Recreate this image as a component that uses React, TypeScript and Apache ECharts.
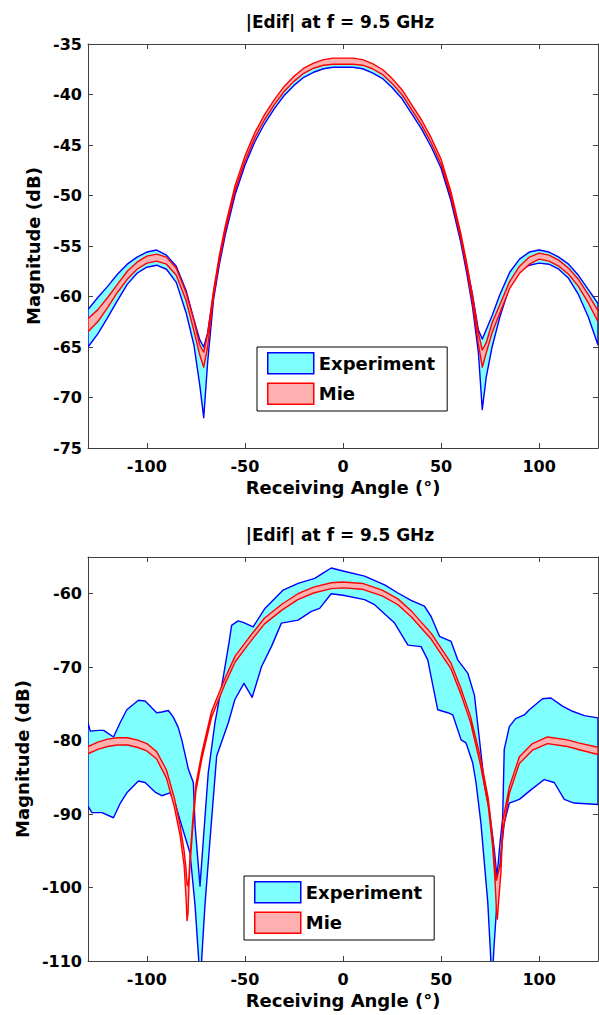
import React, { useEffect, useRef } from 'react';
import * as echarts from 'echarts';

// ---------------- Data ----------------
const TITLE = '|Edif| at f = 9.5 GHz';
const X_NAME = 'Receiving Angle (°)';
const Y_NAME = 'Magnitude (dB)';
const xTickValues = [-100, -50, 0, 50, 100];
const topYTicks = [-75, -70, -65, -60, -55, -50, -45, -40, -35];
const bottomYTicks = [-110, -100, -90, -80, -70, -60];

// Top chart (shared angle grid)
const topAngles = [-130, -125, -120, -115, -110, -105, -100, -95, -90, -85, -80, -76, -73, -71, -69, -66, -63, -60, -55, -50, -45, -40, -35, -30, -25, -20, -15, -10, -5, 0, 5, 10, 15, 20, 25, 30, 35, 40, 45, 50, 55, 60, 63, 66, 69, 71, 73, 76, 80, 85, 90, 95, 100, 105, 110, 115, 120, 125, 130];
const topExpLo = [-65.0, -63.7, -62.1, -60.4, -58.8, -57.7, -57.1, -56.9, -57.3, -58.6, -61.6, -64.8, -68.8, -72.0, -66.5, -60.3, -56.8, -53.9, -49.9, -47.0, -44.7, -42.9, -41.4, -40.1, -39.1, -38.3, -37.8, -37.45, -37.3, -37.3, -37.3, -37.45, -37.85, -38.4, -39.3, -40.4, -41.9, -43.4, -45.2, -47.3, -50.5, -54.6, -57.6, -61.0, -65.5, -71.2, -68.0, -65.0, -62.0, -59.0, -57.5, -56.9, -56.7, -56.8, -57.3, -58.2, -59.8, -62.0, -64.8];
const topExpHi = [-61.3, -60.1, -59.0, -57.8, -56.8, -56.1, -55.6, -55.4, -55.9, -57.0, -59.4, -62.3, -64.3, -65.0, -63.6, -59.7, -56.3, -53.4, -49.4, -46.5, -44.2, -42.4, -40.9, -39.6, -38.6, -37.8, -37.3, -36.95, -36.8, -36.8, -36.8, -36.95, -37.35, -37.9, -38.8, -39.9, -41.4, -42.9, -44.7, -46.8, -50.0, -54.1, -56.9, -59.8, -63.3, -64.2, -63.3, -61.9, -59.8, -57.6, -56.3, -55.6, -55.4, -55.6, -56.1, -56.8, -57.9, -59.3, -60.7];
const topMieLo = [-63.5, -62.5, -61.1, -59.6, -58.3, -57.3, -56.7, -56.5, -56.8, -57.9, -60.4, -63.4, -65.8, -67.0, -65.0, -60.0, -56.4, -53.5, -49.5, -46.6, -44.3, -42.5, -41.0, -39.7, -38.7, -37.9, -37.4, -37.1, -37.0, -37.0, -37.0, -37.1, -37.45, -38.0, -38.9, -40.0, -41.5, -43.0, -44.8, -46.9, -50.1, -54.2, -57.2, -60.6, -64.7, -67.0, -65.6, -63.6, -61.6, -59.2, -57.7, -56.8, -56.3, -56.5, -57.0, -57.8, -59.0, -60.6, -62.5];
const topMieHi = [-62.2, -61.3, -60.1, -58.8, -57.5, -56.6, -56.0, -55.8, -56.1, -57.2, -59.6, -62.4, -64.8, -65.5, -63.7, -59.4, -55.9, -53.0, -49.0, -46.1, -43.8, -42.0, -40.5, -39.2, -38.2, -37.4, -36.9, -36.55, -36.4, -36.4, -36.4, -36.55, -36.95, -37.5, -38.4, -39.5, -41.0, -42.5, -44.3, -46.4, -49.6, -53.7, -56.6, -59.9, -63.6, -65.3, -64.6, -62.6, -60.8, -58.5, -57.0, -56.1, -55.7, -55.9, -56.4, -57.2, -58.3, -59.8, -61.4];

// Bottom chart: experiment upper boundary
const botExpHiAngles = [-130, -128.8, -124.6, -122, -117, -113.5, -110.2, -104.3, -100.9, -98, -95, -92.4, -89, -86.5, -84, -82.2, -78.8, -76.3, -75.4, -72.9, -71.2, -68.7, -65.3, -61, -58, -56.8, -53.5, -50.9, -45.8, -39.8, -30.5, -22.9, -14.4, -10.2, -6, 0, 11, 21.2, 28, 34.7, 41.5, 44.9, 49.2, 55.1, 58.5, 63.6, 67, 69.5, 72.1, 74.6, 77.2, 78.5, 80, 81.4, 82.2, 84.8, 88, 92.4, 95, 101.7, 106, 111.9, 117, 123, 130];
const botExpHi = [-77.6, -78.7, -78.6, -78.6, -79.5, -77.5, -75.8, -74.5, -74.6, -75.4, -76.2, -76.1, -75.9, -76.8, -78.2, -79.9, -83.9, -85.7, -91.6, -99.8, -93.5, -84.4, -77.6, -71.3, -66.5, -64.3, -63.7, -63.9, -64.5, -62.0, -59.5, -58.6, -57.9, -57.2, -56.5, -56.9, -57.6, -58.8, -59.9, -60.9, -61.7, -63.1, -65.8, -66.5, -69.0, -70.8, -73.8, -79.7, -86.0, -89.5, -95.0, -98.6, -94.0, -90.5, -81.2, -78.1, -77.0, -76.5, -75.8, -74.3, -74.2, -75.3, -76.0, -76.6, -76.9];
// Bottom chart: experiment lower boundary
const botExpLoAngles = [-130, -128, -122.9, -117, -113.5, -110.2, -104.3, -100.9, -95.8, -92.4, -88.2, -85.6, -82.2, -78, -75.4, -73.4, -73, -72.2, -70.4, -67.8, -64.4, -58.5, -55.1, -50.5, -46.3, -41.5, -36.5, -31.4, -22.9, -16.1, -11.9, -6, 0, 11, 16.1, 26.3, 33.1, 39.8, 43.2, 48.3, 53.4, 56, 60.2, 62.7, 66.1, 67.8, 70.3, 73.8, 75.4, 76, 77, 78.5, 80.5, 82.2, 84.8, 89.9, 95.8, 102.6, 107.7, 112.8, 117.8, 130];
const botExpLo = [-88.9, -89.8, -89.8, -90.5, -88.5, -87.1, -85.5, -85.7, -87.0, -87.5, -87.1, -88.5, -91.6, -95.3, -102.5, -110.5, -113, -110.5, -102.5, -93.5, -82.1, -77.6, -74.4, -72.2, -74.1, -69.9, -67.2, -64.0, -63.6, -62.4, -62.0, -60.0, -60.2, -60.8, -61.5, -64.0, -67.0, -67.2, -69.0, -75.8, -76.2, -76.5, -79.9, -80.3, -83.0, -85.7, -91.2, -102.0, -110.0, -113, -108, -102, -95.5, -91.2, -88.5, -88.0, -86.7, -85.3, -85.7, -88.0, -88.5, -88.7];
// Bottom chart: Mie band
const botMieAngles = [-130, -125, -120, -115, -110, -105, -100, -95, -90, -86, -83, -81, -80, -79.5, -79, -78.5, -78, -76.5, -75, -72, -67, -60, -55, -48, -40, -31, -23, -15, -6, 0, 10, 20, 28, 35, 45, 55, 60, 65, 70, 74, 76.3, 77.5, 78.2, 78.7, 79.3, 80.5, 81.4, 84.8, 89.9, 96.6, 104.3, 114.4, 120, 130];
const botMieHi = [-80.8, -80.2, -79.8, -79.6, -79.6, -79.9, -80.4, -81.5, -84.0, -87.8, -91.6, -95.0, -97.5, -99.5, -99.8, -98.5, -95.8, -90.5, -86.0, -81.7, -76.0, -71.4, -68.5, -66.0, -63.3, -61.4, -60.0, -59.1, -58.5, -58.4, -58.6, -59.5, -60.7, -62.4, -65.4, -69.4, -72.8, -76.7, -82.2, -87.8, -93.3, -97.0, -99.0, -98.5, -97.8, -96.5, -91.0, -86.3, -82.2, -80.4, -79.5, -79.9, -80.3, -80.9];
const botMieLo = [-81.8, -81.2, -80.8, -80.6, -80.6, -80.9, -81.4, -82.5, -85.1, -89.0, -93.0, -97.0, -101.5, -104.5, -103.5, -99.5, -97.0, -91.5, -86.9, -82.5, -76.8, -72.2, -69.3, -66.8, -64.1, -62.2, -60.8, -59.9, -59.3, -59.2, -59.4, -60.3, -61.5, -63.2, -66.2, -70.2, -73.6, -77.5, -83.2, -88.8, -94.5, -99.0, -103.0, -104.3, -102.0, -98.0, -92.5, -87.2, -83.1, -81.3, -80.4, -80.8, -81.2, -81.9];

// ---------------- Styles ----------------
const FONT = 'DejaVu Sans';
const CYAN = '#80FFFF';
const BLUE = '#0000FF';
const PINK = '#FFB0B0';
const RED = '#FF0000';
const AXIS = '#404040';

const GRID_LEFT = 88;
const GRID_W = 510;
const GRID_H = 404;
const TOP1 = 44;
const TOP2 = 557;

function band(name: string, idx: number, hiA: number[], hiV: number[], loA: number[], loV: number[], fill: string, stroke: string) {
  const data: number[][] = hiA.map((a, i) => [a, hiV[i]]).concat(loA.map((a, i) => [a, loV[i]]));
  return {
    type: 'custom',
    name,
    xAxisIndex: idx * 2,
    yAxisIndex: idx * 2,
    clip: true,
    itemStyle: { color: fill, borderColor: stroke, borderWidth: 1.5 },
    data,
    renderItem: (params: any, api: any) => {
      if (params.dataIndex !== 0) return null;
      const pts: number[][] = [];
      for (let i = 0; i < hiA.length; i++) pts.push(api.coord([hiA[i], hiV[i]]));
      for (let i = loA.length - 1; i >= 0; i--) pts.push(api.coord([loA[i], loV[i]]));
      return {
        type: 'polygon',
        shape: { points: pts },
        style: { fill, stroke, lineWidth: 1.4, lineJoin: 'round' },
      };
    },
  };
}

function xAxes(g: number) {
  const common = {
    type: 'value',
    gridIndex: g,
    min: -130,
    max: 130,
    splitLine: { show: false },
    axisLine: { show: true, onZero: false, lineStyle: { color: AXIS, width: 1 } },
    axisTick: { show: true, inside: true, length: 5, customValues: xTickValues, lineStyle: { color: AXIS, width: 1 } },
  };
  return [
    {
      ...common,
      position: 'bottom',
      name: X_NAME,
      nameLocation: 'middle',
      nameGap: 30,
      nameTextStyle: { fontFamily: FONT, fontWeight: 'bold', fontSize: 18, color: '#000' },
      axisLabel: { customValues: xTickValues, margin: 10, fontFamily: FONT, fontWeight: 'bold', fontSize: 16, color: '#000' },
    },
    {
      ...common,
      position: 'top',
      axisLabel: { show: false },
    },
  ];
}

function yAxes(g: number, min: number, max: number, ticks: number[]) {
  const common = {
    type: 'value',
    gridIndex: g,
    min,
    max,
    splitLine: { show: false },
    axisLine: { show: true, onZero: false, lineStyle: { color: AXIS, width: 1 } },
    axisTick: { show: true, inside: true, length: 5, customValues: ticks, lineStyle: { color: AXIS, width: 1 } },
  };
  return [
    {
      ...common,
      position: 'left',
      name: Y_NAME,
      nameLocation: 'middle',
      nameGap: 46,
      nameTextStyle: { fontFamily: FONT, fontWeight: 'bold', fontSize: 18, color: '#000' },
      axisLabel: { customValues: ticks, margin: 6, fontFamily: FONT, fontWeight: 'bold', fontSize: 16, color: '#000' },
    },
    {
      ...common,
      position: 'right',
      axisLabel: { show: false },
    },
  ];
}

function legend(left: number, top: number) {
  return {
    left,
    top,
    orient: 'vertical',
    itemWidth: 46,
    itemHeight: 21,
    itemGap: 8,
    padding: [5, 12, 6, 10],
    borderColor: '#000',
    borderWidth: 1,
    backgroundColor: '#fff',
    selectedMode: false,
    textStyle: { fontFamily: FONT, fontWeight: 'bold', fontSize: 18, color: '#000', lineHeight: 21 },
    data: [
      { name: 'Experiment', icon: 'rect', itemStyle: { color: CYAN, borderColor: BLUE, borderWidth: 1.5 } },
      { name: 'Mie', icon: 'rect', itemStyle: { color: PINK, borderColor: RED, borderWidth: 1.5 } },
    ],
  };
}

function titleText(y: number) {
  return {
    type: 'text',
    x: 340,
    y,
    style: {
      text: TITLE,
      textAlign: 'center',
      textVerticalAlign: 'middle',
      fontFamily: FONT,
      fontWeight: 'bold',
      fontSize: 17,
      fill: '#000',
    },
  };
}

const option: any = {
  animation: false,
  backgroundColor: '#fff',
  grid: [
    { left: GRID_LEFT, top: TOP1, width: GRID_W, height: GRID_H },
    { left: GRID_LEFT, top: TOP2, width: GRID_W, height: GRID_H },
  ],
  xAxis: [...xAxes(0), ...xAxes(1)],
  yAxis: [...yAxes(0, -75, -35, topYTicks), ...yAxes(1, -110, -55, bottomYTicks)],
  legend: [legend(257, 347), legend(244, 876)],
  graphic: [titleText(22), titleText(535)],
  series: [
    band('Experiment', 0, topAngles, topExpHi, topAngles, topExpLo, CYAN, BLUE),
    band('Mie', 0, topAngles, topMieHi, topAngles, topMieLo, PINK, RED),
    band('Experiment', 1, botExpHiAngles, botExpHi, botExpLoAngles, botExpLo, CYAN, BLUE),
    band('Mie', 1, botMieAngles, botMieHi, botMieAngles, botMieLo, PINK, RED),
  ],
};

export default function App() {
  const ref = useRef<HTMLDivElement>(null);
  useEffect(() => {
    if (!ref.current) return;
    const chart = echarts.init(ref.current, null, { renderer: 'svg' });
    chart.setOption(option);
    return () => chart.dispose();
  }, []);
  return <div ref={ref} style={{ position: 'absolute', left: 0, top: 0, width: 599, height: 1015, background: '#fff' }} />;
}
